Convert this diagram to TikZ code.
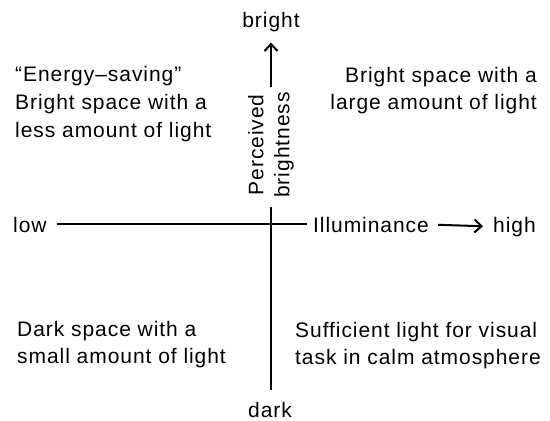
\documentclass[tikz,border=0pt]{standalone}
\usepackage{fontspec}
\setmainfont{Liberation Sans}[LetterSpace=4.5]
\usetikzlibrary{arrows.meta}

\begin{document}
\begin{tikzpicture}[x=1pt,y=-1pt,>={Straight Barb[length=7pt,width=13pt]},
  txt/.style={font=\fontsize{21}{27}\selectfont,inner sep=0pt},
  axis/.style={line width=2pt}]
  \useasboundingbox (0,0) rectangle (550,421);
  % axis labels
  \node[txt,anchor=base] (bright) at (271,27) {bright};
  \node[txt,anchor=base] (dark) at (270,417) {dark};
  \node[txt,anchor=base west] (low) at (13,232) {low};
  \node[txt,anchor=base west] (illum) at (313,232) {Illuminance};
  \node[txt,anchor=base west] (high) at (493,232) {high};
  \node[txt,rotate=90,align=center,font=\fontsize{21}{26}\selectfont] (pb) at (271,145) {Perceived\\brightness};
  % quadrants
  \node[txt,anchor=north west,align=left,font=\fontsize{21}{28}\selectfont] (ul) at (15,66.5) {``Energy--saving''\\Bright space with a\\less amount of light};
  \node[txt,anchor=north east,align=right] (ur) at (537,67.5) {Bright space with a\\large amount of light};
  \node[txt,anchor=north west,align=left,font=\fontsize{21}{26.5}\selectfont] (ll) at (17,321.5) {Dark space with a\\small amount of light};
  \node[txt,anchor=north west,align=left] (lr) at (295,322.5) {Sufficient light for visual\\task in calm atmosphere};
  % axes
  \coordinate (vtop) at (271,207);
  \draw[axis,shorten >=12pt] (vtop) -- (vtop |- dark.north);
  \draw[axis,shorten <=10pt,shorten >=6pt] (low.east) -- (illum.west);
  \draw[axis,->,shorten <=9pt,shorten >=10pt] (illum.east) -- (high.west);
  \draw[axis,->,shorten <=5pt,shorten >=11pt] (pb.east) -- (bright.south);
\end{tikzpicture}
\end{document}
